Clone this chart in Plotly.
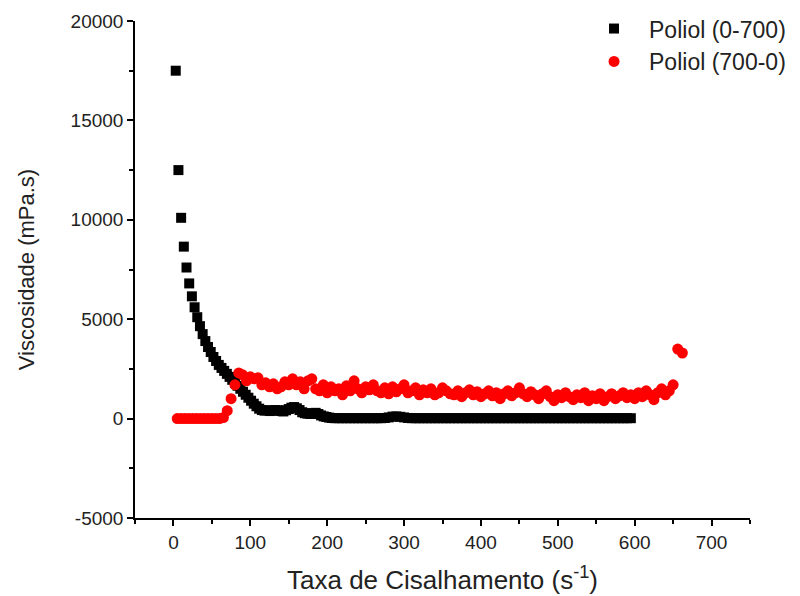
import plotly.graph_objects as go

# Poliol (0-700): shear rate (s^-1) and viscosity (mPa.s)
x_up = [3, 6.5, 10, 13.5, 17, 20.5, 24, 27.5, 31, 34.5, 38, 41.5, 45, 48.5, 52, 55.5, 59, 62.5,
        66, 69.5, 73, 76.5, 80, 83.5, 87, 90.5, 94, 97.5, 101, 104.5, 108, 111.5, 115, 118.5,
        122, 125.5, 129, 132.5, 136, 139.5, 143, 146.5, 150, 153.5, 157, 160.5, 164, 167.5,
        171, 174.5, 178, 181.5, 185, 188.5, 192, 195.5, 199, 202.5, 206,
        210, 215, 220, 225, 230, 235, 240, 245, 250, 255, 260, 265, 270, 275, 280, 285, 290,
        295, 300, 305, 310, 315, 320, 325, 330, 335, 340, 345, 350, 355, 360, 365, 370, 375,
        380, 385, 390, 395, 400, 405, 410, 415, 420, 425, 430, 435, 440, 445, 450, 455, 460,
        465, 470, 475, 480, 485, 490, 495, 500, 505, 510, 515, 520, 525, 530, 535, 540, 545,
        550, 555, 560, 565, 570, 575, 580, 585, 590, 595]
y_up = [17500, 12500, 10100, 8650, 7600, 6800, 6150, 5600, 5100, 4650, 4250, 3900, 3600, 3350,
        3100, 2900, 2700, 2550, 2400, 2250, 2100, 1950, 1800, 1650, 1500, 1350, 1200, 1050,
        900, 750, 620, 500, 430, 400, 420, 380, 400, 430, 420, 380, 360, 420, 480, 550, 580,
        520, 430, 320, 270, 250, 230, 270, 290, 230, 160, 110, 80, 50, 30,
        20, 20, 20, 20, 20, 20, 20, 20, 20, 20, 20, 20, 20, 30, 60, 100, 110,
        90, 60, 30, 20, 20, 20, 20, 20, 20, 20, 20, 20, 20, 20, 20, 20, 20,
        20, 20, 20, 20, 20, 20, 20, 20, 20, 20, 20, 20, 20, 20, 20, 20, 20,
        20, 20, 20, 20, 20, 20, 20, 20, 20, 20, 20, 20, 20, 20, 20, 20, 20,
        20, 20, 20, 20, 20, 20, 20, 20, 20, 20]

# Poliol (700-0)
x_down = [5, 10, 15, 20, 25, 30, 35, 40, 45, 50, 55, 60, 65, 70, 75, 80, 85, 90, 95, 100,
          105, 110, 115, 120, 125, 130, 135, 140, 145, 150, 155, 160, 165, 170, 175, 180, 185,
          190, 195, 200, 205, 210, 215, 220, 225, 230, 235, 240, 245, 250, 255, 260, 265, 270,
          275, 280, 285, 290, 295, 300, 305, 310, 315, 320, 325, 330, 335, 340, 345, 350, 355,
          360, 365, 370, 375, 380, 385, 390, 395, 400, 405, 410, 415, 420, 425, 430, 435, 440,
          445, 450, 455, 460, 465, 470, 475, 480, 485, 490, 495, 500, 505, 510, 515, 520, 525,
          530, 535, 540, 545, 550, 555, 560, 565, 570, 575, 580, 585, 590, 595, 600, 605, 610,
          615, 620, 625, 630, 635, 640, 645, 650, 656, 662]
y_down = [0, 0, 0, 0, 0, 0, 0, 0, 0, 0, 0, 0, 50, 400, 1000, 1700, 2300, 2200, 1900, 2100,
          2000, 2050, 1700, 1800, 1600, 1750, 1500, 1600, 1850, 1700, 2000, 1700, 1850, 1500,
          1900, 2000, 1500, 1400, 1700, 1300, 1600, 1400, 1500, 1200, 1650, 1400, 1900, 1500,
          1300, 1600, 1450, 1700, 1400, 1300, 1550, 1250, 1600, 1350, 1500, 1700, 1300, 1400,
          1550, 1200, 1450, 1300, 1500, 1200, 1300, 1550, 1400, 1250, 1200, 1400, 1100, 1300,
          1450, 1200, 1350, 1100, 1250, 1400, 1150, 1300, 1000, 1250, 1400, 1150, 1300, 1550,
          1250, 1100, 1350, 1200, 1000, 1250, 1400, 1100, 900, 1200, 1050, 1300, 1100, 950,
          1200, 1050, 1300, 900, 1150, 1000, 1250, 900, 1100, 1250, 1000, 1150, 1300, 1050,
          1200, 1000, 1300, 1100, 1400, 1200, 950, 1300, 1500, 1200, 1400, 1700, 3500, 3300]

x_ticks = [0, 100, 200, 300, 400, 500, 600, 700]
x_ticktext = ["0", "100", "200", "300", "400", "500", "600", "700"]
y_ticks = [-5000, 0, 5000, 10000, 15000, 20000]
y_ticktext = ["-5000", "0", "5000", "10000", "15000", "20000"]

FONT = "Liberation Sans, Arial, sans-serif"
TXT = "#222222"

fig = go.Figure()
fig.add_trace(go.Scatter(x=x_up, y=y_up, mode="markers", name="Poliol (0-700)",
                         marker=dict(symbol="square", size=10, color="black")))
fig.add_trace(go.Scatter(x=x_down, y=y_down, mode="markers", name="Poliol (700-0)",
                         marker=dict(symbol="circle", size=11, color="#ff0000")))

axis_common = dict(showline=True, linecolor="black", linewidth=1.5, ticks="outside",
                   ticklen=6, tickwidth=1.5, tickcolor="black", showgrid=False, zeroline=False,
                   tickfont=dict(family=FONT, size=19, color=TXT), mirror=False,
                   automargin=False)

fig.update_xaxes(range=[-50, 750], tickvals=x_ticks, ticktext=x_ticktext,
                 minor=dict(ticks="outside", dtick=50, tick0=0, ticklen=4, tickcolor="black", tickwidth=1.5),
                 title=dict(text="Taxa de Cisalhamento (s<sup>-1</sup>)",
                            font=dict(family=FONT, size=26, color=TXT), standoff=19),
                 **axis_common)
fig.update_yaxes(range=[-5000, 20000], tickvals=y_ticks, ticktext=y_ticktext,
                 minor=dict(ticks="outside", dtick=2500, tick0=0, ticklen=4, tickcolor="black", tickwidth=1.5),
                 title=dict(text="Viscosidade (mPa.s)",
                            font=dict(family=FONT, size=22, color=TXT), standoff=30),
                 **axis_common)

fig.update_layout(
    width=800, height=596,
    margin=dict(l=135, r=50, t=21, b=78, autoexpand=False),
    plot_bgcolor="white", paper_bgcolor="white",
    showlegend=True,
    legend=dict(x=0.722, y=1.028, xanchor="left", yanchor="top",
                bgcolor="rgba(0,0,0,0)", font=dict(family=FONT, size=23, color=TXT),
                itemwidth=60, tracegroupgap=0),
)

fig.write_html("out.html")
